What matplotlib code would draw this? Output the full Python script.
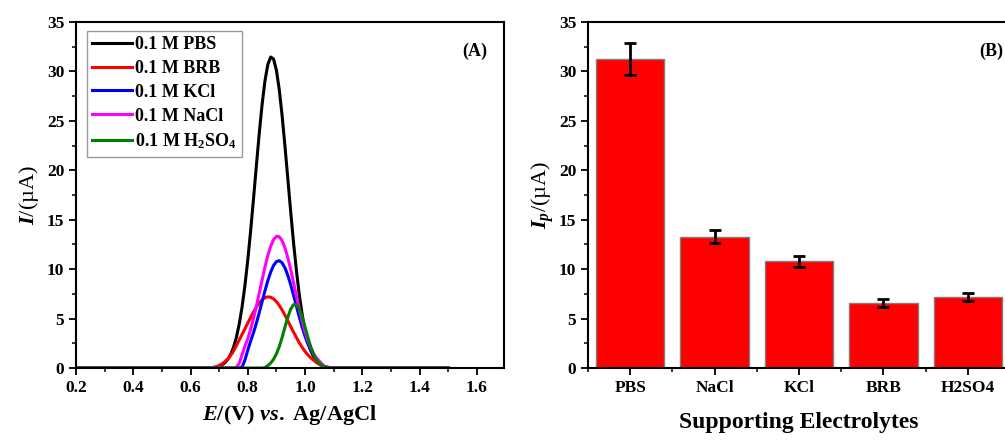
import numpy as np
import matplotlib
matplotlib.use('Agg')
import matplotlib.pyplot as plt
from matplotlib.ticker import MultipleLocator

plt.rcParams['font.family'] = ['Liberation Serif', 'DejaVu Serif']
plt.rcParams['font.weight'] = 'bold'
plt.rcParams['axes.labelweight'] = 'bold'
plt.rcParams['mathtext.fontset'] = 'custom'
plt.rcParams['mathtext.rm'] = 'Liberation Serif:bold'
plt.rcParams['mathtext.it'] = 'Liberation Serif:italic:bold'
plt.rcParams['mathtext.bf'] = 'Liberation Serif:bold'

# potential grid (V vs Ag/AgCl)
E = [0.20, 0.60,
     0.66, 0.67, 0.68, 0.69, 0.70, 0.71, 0.72, 0.73, 0.74, 0.75,
     0.76, 0.77, 0.78, 0.79, 0.80, 0.81, 0.82, 0.83, 0.84, 0.85,
     0.86, 0.87, 0.88, 0.89, 0.90, 0.91, 0.92, 0.93, 0.94, 0.95,
     0.96, 0.97, 0.98, 0.99, 1.00, 1.01, 1.02, 1.03, 1.04, 1.05,
     1.06, 1.07, 1.08, 1.09, 1.10, 1.11, 1.12,
     1.50]

pbs = [0, 0,
       0.02, 0.03, 0.06, 0.10, 0.18, 0.32, 0.53, 0.86, 1.35, 2.07,
       3.07, 4.42, 6.15, 8.32, 10.91, 13.87, 17.10, 20.44, 23.70, 26.64,
       29.04, 30.69, 31.46, 31.26, 30.13, 28.16, 25.52, 22.42, 19.11, 15.79,
       12.65, 9.83, 7.40, 5.41, 3.83, 2.63, 1.75, 1.13, 0.71, 0.43,
       0.25, 0.15, 0.08, 0.04, 0.02, 0.01, 0.00,
       0]
brb = [0, 0,
       0.00, 0.02, 0.05, 0.12, 0.25, 0.42, 0.65, 0.92, 1.25, 1.70,
       2.25, 2.83, 3.39, 3.96, 4.54, 5.12, 5.66, 6.16, 6.57, 6.90,
       7.11, 7.20, 7.16, 7.00, 6.72, 6.33, 5.87, 5.34, 4.77, 4.19,
       3.62, 3.07, 2.55, 2.09, 1.68, 1.32, 1.03, 0.78, 0.55, 0.36,
       0.22, 0.12, 0.06, 0.03, 0.01, 0.00, 0.00,
       0]
kcl = [0, 0,
       0, 0, 0, 0, 0, 0, 0, 0, 0, 0,
       0, 0, 0.10, 0.80, 1.80, 2.73, 3.57, 4.53, 5.59, 6.70,
       7.80, 8.83, 9.70, 10.37, 10.76, 10.86, 10.64, 10.13, 9.37, 8.43,
       7.36, 6.25, 5.16, 4.13, 3.22, 2.44, 1.79, 1.28, 0.89, 0.60,
       0.30, 0.10, 0, 0, 0, 0, 0,
       0]
nacl = [0, 0,
        0, 0, 0, 0, 0, 0, 0, 0, 0, 0,
        0.08, 0.45, 1.35, 2.20, 2.97, 3.91, 5.01, 6.24, 7.56, 8.90,
        10.20, 11.37, 12.32, 12.99, 13.32, 13.28, 12.88, 12.15, 11.15, 9.95,
        8.64, 7.29, 5.98, 4.78, 3.71, 2.80, 2.06, 1.47, 1.02, 0.69,
        0.38, 0.12, 0, 0, 0, 0, 0,
        0]
h2so4 = [0, 0,
         0, 0, 0, 0, 0, 0, 0, 0, 0, 0,
         0, 0, 0, 0, 0, 0, 0, 0, 0, 0,
         0.05, 0.24, 0.50, 0.88, 1.42, 2.16, 3.09, 4.14, 5.15, 5.96,
         6.41, 6.41, 5.96, 5.15, 4.14, 3.09, 2.14, 1.38, 0.83, 0.46,
         0.24, 0.08, 0, 0, 0, 0, 0,
         0]

electrolytes = ['PBS', 'NaCl', 'KCl', 'BRB', 'H2SO4']
ip = [31.25, 13.30, 10.80, 6.58, 7.18]
ip_err = [1.6, 0.70, 0.57, 0.40, 0.45]

fig = plt.figure(figsize=(10.05, 4.4), dpi=100)
ax1 = fig.add_axes([0.0756, 0.1636, 0.4259, 0.7864])
ax2 = fig.add_axes([0.5851, 0.1636, 0.42, 0.7864])

lw = 2.2
ax1.plot(E, pbs, color='black', lw=lw, label='0.1 M PBS')
ax1.plot(E, brb, color='#ff0000', lw=lw, label='0.1 M BRB')
ax1.plot(E, kcl, color='#0000ff', lw=lw, label='0.1 M KCl')
ax1.plot(E, nacl, color='#ff00ff', lw=lw, label='0.1 M NaCl')
ax1.plot(E, h2so4, color='#008000', lw=lw, label='0.1 M H$_2$SO$_4$')
ax1.set_xlim(0.2, 1.695)
ax1.set_ylim(0, 35)
ax1.xaxis.set_major_locator(MultipleLocator(0.2))
ax1.xaxis.set_minor_locator(MultipleLocator(0.1))
ax1.yaxis.set_major_locator(MultipleLocator(5))
ax1.yaxis.set_minor_locator(MultipleLocator(2.5))
ax1.xaxis.set_major_formatter(plt.FuncFormatter(lambda v, p: '%.1f' % v))
ax1.set_xlabel(r'$\mathit{E}$/(V) $\mathit{vs.}$ Ag/AgCl', fontsize=16, labelpad=5)
ax1.set_ylabel(r'$\mathit{I}$/(µA)', fontsize=16, fontweight='normal', labelpad=4)
leg = ax1.legend(loc='upper left', bbox_to_anchor=(0.025, 0.975), fontsize=13,
                 handlelength=2.2, handletextpad=0.15, labelspacing=0.38,
                 borderpad=0.3, fancybox=False, framealpha=1, borderaxespad=0)
leg.get_frame().set_edgecolor('#999999')
leg.get_frame().set_linewidth(1.0)
ax1.text(0.96, 0.915, '(A)', transform=ax1.transAxes, ha='right', va='center',
         fontsize=13)

ax2.bar(range(len(electrolytes)), ip, width=0.81, color='#ff0000',
        edgecolor='#7f7f7f', linewidth=1.0)
ax2.errorbar(range(len(electrolytes)), ip, yerr=ip_err, fmt='none',
             ecolor='black', elinewidth=2, capsize=4, capthick=2)
ax2.set_xlim(-0.46, 4.45)
ax2.set_ylim(0, 35)
ax2.set_xticks(range(len(electrolytes)))
ax2.set_xticklabels(electrolytes)
ax2.set_xticks([i + 0.5 for i in range(-1, len(electrolytes))], minor=True)
ax2.yaxis.set_major_locator(MultipleLocator(5))
ax2.yaxis.set_minor_locator(MultipleLocator(2.5))
ax2.set_xlabel('Supporting Electrolytes', fontsize=17, labelpad=12)
ax2.set_ylabel(r'$\mathit{I_p}$/(µA)', fontsize=16, fontweight='normal', labelpad=2)
ax2.text(0.955, 0.915, '(B)', transform=ax2.transAxes, ha='center', va='center',
         fontsize=13)

for ax in (ax1, ax2):
    for s in ax.spines.values():
        s.set_linewidth(1.5)
    ax.tick_params(which='major', direction='out', length=5, width=1.3,
                   labelsize=12.5, top=False, right=False)
    ax.tick_params(which='minor', direction='out', length=3, width=1.1,
                   top=False, right=False)
    for lab in ax.get_xticklabels() + ax.get_yticklabels():
        lab.set_fontweight('bold')

fig.savefig('out.png', dpi=100)
